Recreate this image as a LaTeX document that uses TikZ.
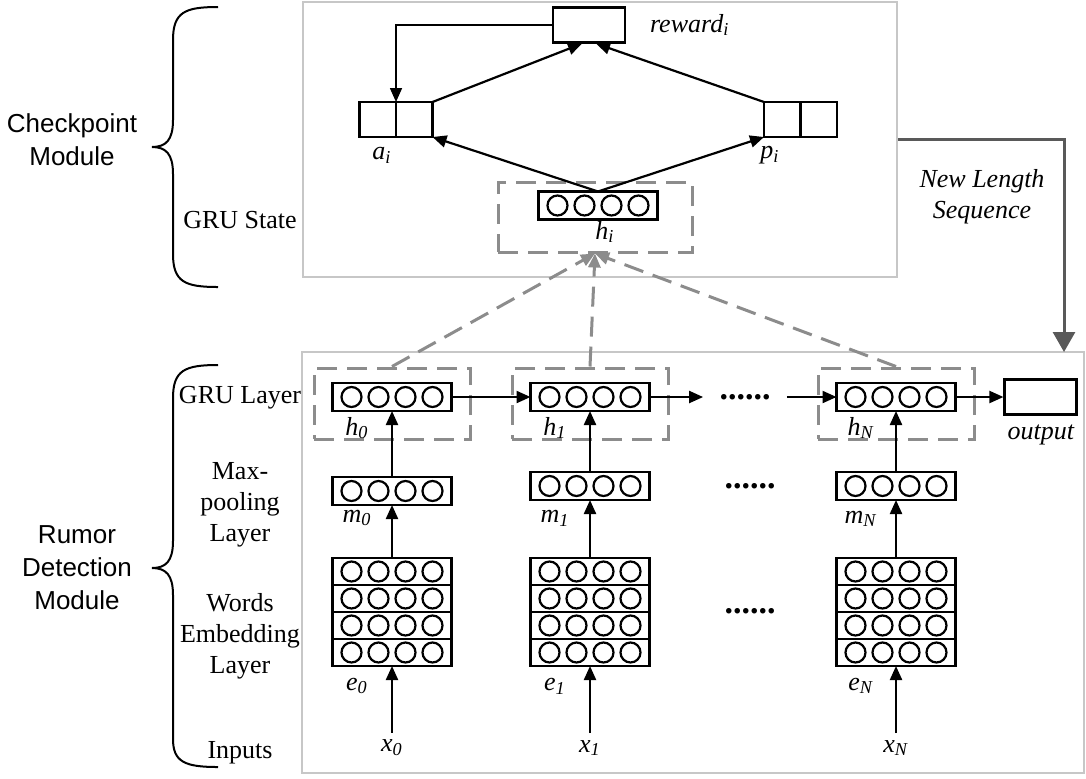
\documentclass[tikz,border=0pt]{standalone}
\usepackage{fontspec}
\setmainfont{Liberation Serif}
\setsansfont{Liberation Sans}
\usetikzlibrary{arrows.meta,positioning}

\newcommand{\vlab}[2]{\textit{#1}\textsubscript{\textit{#2}}}

\begin{document}
\begin{tikzpicture}[x=0.5pt, y=-0.5pt,
  font=\fontsize{13}{15.5}\selectfont,
  frame/.style={draw=black!22, line width=1pt, inner sep=0pt},
  vec/.style={draw, line width=1.1pt, minimum width=59.5pt, minimum height=14pt,
              inner sep=0pt, outer sep=0pt,
              path picture={\foreach \k in {-1.5,-0.5,0.5,1.5}
                \draw[line width=1.1pt] ([xshift=\k*13.5pt]path picture bounding box.center) circle (5pt);}},
  emb/.style={vec, minimum height=13.5pt},
  cell/.style={draw, line width=1.1pt, minimum width=18.25pt, minimum height=17.5pt,
               inner sep=0pt, outer sep=0pt},
  outbox/.style={draw, line width=1.1pt, minimum width=36pt, minimum height=17.5pt, inner sep=0pt},
  dbox/.style={draw=black!45, line width=1.5pt, dash pattern=on 10pt off 5pt,
               minimum width=78pt, minimum height=35.5pt, inner sep=0pt},
  arr/.style={-{Triangle[length=7pt,width=6pt]}, line width=1.1pt},
  garr/.style={-{Triangle[length=7pt,width=6pt]}, draw=black!45, line width=1.5pt,
               dash pattern=on 10pt off 5pt},
  seq/.style={-{Triangle[length=10pt,width=11pt]}, draw=black!65, line width=1.5pt},
  layer/.style={align=center},
  module/.style={align=center, font=\sffamily\fontsize{13}{16.5}\selectfont},
  dots/.style={font=\fontsize{17}{17}\selectfont\bfseries, inner xsep=8pt, inner ysep=0pt}
]
\useasboundingbox (0,0) rectangle (1086,778);

% Module frames
\node[frame, minimum width=297pt, minimum height=137.5pt] (ckpt) at (600,139.5) {};
\node[frame, minimum width=391pt, minimum height=210.5pt] (rdm)  at (693,562.5) {};

% Braces and module names
\draw[line width=1pt] (218,7) .. controls (185,7) and (173,12) .. (173,40) -- (173,120)
  .. controls (173,140) and (166,147) .. (152,147)
  .. controls (166,147) and (173,154) .. (173,174) -- (173,254)
  .. controls (173,282) and (185,287) .. (218,287);
\draw[line width=1pt] (218,365) .. controls (185,365) and (173,370) .. (173,398) -- (173,541)
  .. controls (173,561) and (166,568) .. (152,568)
  .. controls (166,568) and (173,575) .. (173,595) -- (173,739)
  .. controls (173,762) and (185,767) .. (218,767);
\node[module] (ckm) at (72,140) {Checkpoint\\Module};
\node[module] (rdmm) at (77,568) {Rumor\\Detection\\Module};

% Layer names
\node[layer] (lstate) at (240,220) {GRU State};
\node[layer] (lgru)   at (240,398) {GRU Layer};
\node[layer] (lpool)  at (240,505) {Max-\\pooling\\Layer};
\node[layer] (lemb)   at (240,636) {Words\\Embedding\\Layer};
\node[layer] (linp)   at (240,753) {Inputs};

% Checkpoint module
\node[outbox] (rwd) at (589,25) {};
\node[anchor=west] (rwdl) at (643,25) {\vlab{reward}{i}};
\node[cell] (a1) at (377.75,119.5) {};
\node[cell] (a2) at (414.25,119.5) {};
\node[cell] (p1) at (782.25,119.5) {};
\node[cell] (p2) at (818.75,119.5) {};
\node (ail) at (382,155) {\vlab{a}{i}};
\node (pil) at (770,155) {\vlab{p}{i}};
\node[vec] (hi) at (598,205.5) {};
\node (hil) at (605,232) {\vlab{h}{i}};
\node[dbox, minimum width=97pt, minimum height=35pt] (dhi) at (595,217) {};

\draw[arr] (hi.north) -- (a2.south east);
\draw[arr] (hi.north) -- (p1.south west);
\draw[arr] (a2.north east) -- ([xshift=-3.5pt]rwd.south);
\draw[arr] (p1.north west) -- ([xshift=3.5pt]rwd.south);
\draw[arr, line width=0.8pt] (rwd.west) -| (a1.north east);

% New length sequence
\coordinate (drop) at (1064,352);
\draw[seq] (ckpt.east) -| (drop);
\node[align=center, font=\itshape\fontsize{13}{15.5}\selectfont] (nls) at (982,197) {New Length\\Sequence};

% GRU layer
\node[vec] (h0) at (392,397) {};
\node[vec] (h1) at (590,397) {};
\node[vec] (hN) at (896,397) {};
\node[dots] (hdots) at (745,397) {......};
\node[outbox] (out) at (1040.5,397) {};
\node (outl) at (1041,435) {\textit{output}};
\node[dbox] (d0) at (392,403.5) {};
\node[dbox] (d1) at (590,403.5) {};
\node[dbox] (dN) at (896,403.5) {};
\node (h0l) at (357,428) {\vlab{h}{0}};
\node (h1l) at (555,428) {\vlab{h}{1}};
\node (hNl) at (861,428) {\vlab{h}{N}};

% Max-pooling layer
\node[vec] (m0) at (392,491) {};
\node[vec] (m1) at (590,486) {};
\node[vec] (mN) at (896,486) {};
\node[dots] (mdots) at (750,486) {......};
\node (m0l) at (357,518) {\vlab{m}{0}};
\node (m1l) at (555,518) {\vlab{m}{1}};
\node (mNl) at (861,519) {\vlab{m}{N}};

% Words embedding layer
\node[emb] (e0a) at (392,571.5) {};
\node[emb, below=0pt of e0a] (e0b) {};
\node[emb, below=0pt of e0b] (e0c) {};
\node[emb, below=0pt of e0c] (e0d) {};
\node[emb] (e1a) at (590,571.5) {};
\node[emb, below=0pt of e1a] (e1b) {};
\node[emb, below=0pt of e1b] (e1c) {};
\node[emb, below=0pt of e1c] (e1d) {};
\node[emb] (eNa) at (896,571.5) {};
\node[emb, below=0pt of eNa] (eNb) {};
\node[emb, below=0pt of eNb] (eNc) {};
\node[emb, below=0pt of eNc] (eNd) {};
\node[dots] (edots) at (750,611) {......};
\node (e0l) at (357,686) {\vlab{e}{0}};
\node (e1l) at (555,686) {\vlab{e}{1}};
\node (eNl) at (861,686) {\vlab{e}{N}};

% Inputs
\node (x0) at (392,748) {\vlab{x}{0}};
\node (x1) at (590,748) {\vlab{x}{1}};
\node (xN) at (896,748) {\vlab{x}{N}};

% Connections
\draw[arr] (x0.north) -- (e0d.south);
\draw[arr] (x1.north) -- (e1d.south);
\draw[arr] (xN.north) -- (eNd.south);
\draw[arr] (e0a.north) -- (m0.south);
\draw[arr] (e1a.north) -- (m1.south);
\draw[arr] (eNa.north) -- (mN.south);
\draw[arr] (m0.north) -- (h0.south);
\draw[arr] (m1.north) -- (h1.south);
\draw[arr] (mN.north) -- (hN.south);
\draw[arr] (h0.east) -- (h1.west);
\draw[arr] (h1.east) -- (hdots.west);
\draw[arr] (hdots.east) -- (hN.west);
\draw[arr] (hN.east) -- (out.west);

% States to checkpoint
\draw[garr] (d0.north) -- (dhi.south);
\draw[garr] (d1.north) -- (dhi.south);
\draw[garr] (dN.north) -- (dhi.south);
\end{tikzpicture}
\end{document}
